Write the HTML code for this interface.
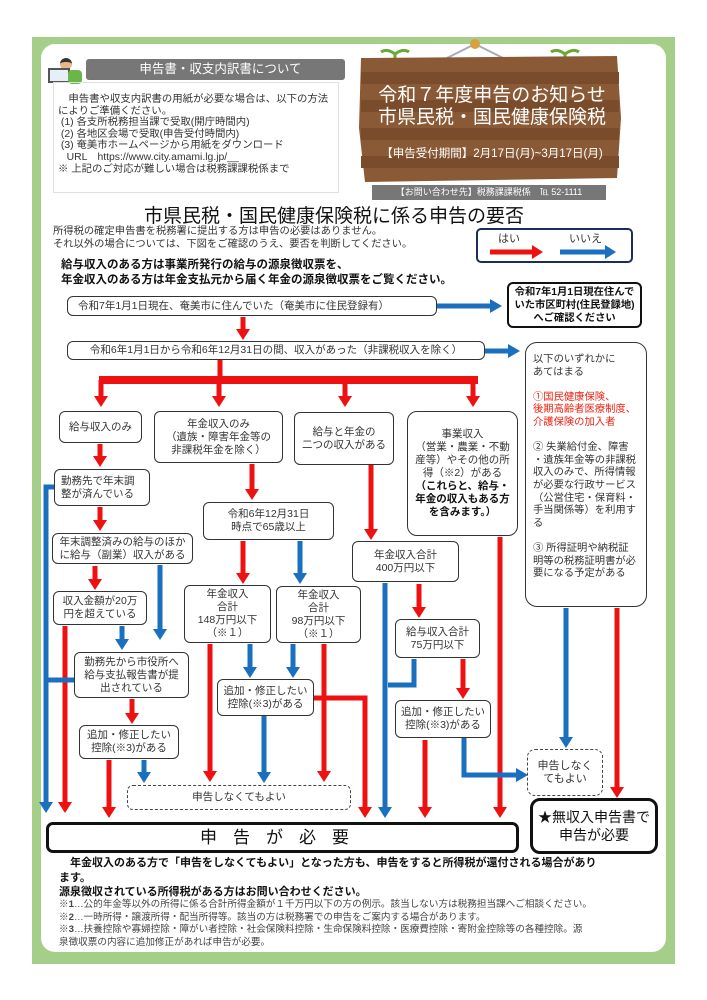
<!DOCTYPE html>
<html><head><meta charset="utf-8">
<style>
*{margin:0;padding:0;box-sizing:border-box}
body{width:707px;height:1000px;background:#fff;position:relative;overflow:hidden;font-family:"Liberation Sans","Noto Sans CJK JP",sans-serif;color:#222}
.a{position:absolute}
.bx{position:absolute;background:#fff;border:1.3px solid #333;border-radius:6px;font-size:10.5px;line-height:13px;text-align:center;display:flex;align-items:center;justify-content:center;color:#333}
.t{position:absolute;white-space:nowrap}
</style></head><body>
<!-- green frame -->
<div class="a" style="left:32px;top:37px;width:643px;height:927px;background:#a5cf88"></div>
<div class="a" style="left:41px;top:44px;width:625px;height:908px;background:#fff;border-radius:14px"></div>

<!-- header left -->
<div class="a" style="left:86px;top:59px;width:259px;height:21px;background:#777;border-radius:3px;color:#fff;font-size:12.5px;line-height:21px;text-align:center;padding-left:10px">申告書・収支内訳書について</div>
<div class="a" style="left:48px;top:58px;width:36px;height:28px">
<div class="a" style="left:12px;top:0;width:12px;height:12px;background:#e8b88a;border-radius:50%;border-top:4px solid #333"></div>
<div class="a" style="left:0;top:10px;width:22px;height:15px;background:#e6eef7;border:2px solid #555"></div>
<div class="a" style="left:20px;top:12px;width:14px;height:14px;background:#6cb548;border-radius:4px"></div>
</div>
<div class="a" style="left:53px;top:82px;width:286px;height:111px;border:1px solid #e0e0e0"></div>
<div class="a" style="left:58px;top:94px;font-size:10.4px;line-height:11.6px;color:#333;white-space:nowrap">
　申告書や収支内訳書の用紙が必要な場合は、以下の方法<br>によりご準備ください。<br>&nbsp;(1) 各支所税務担当課で受取(開庁時間内)<br>&nbsp;(2) 各地区会場で受取(申告受付時間内)<br>&nbsp;(3) 奄美市ホームページから用紙をダウンロード<br>&nbsp;&nbsp;&nbsp;URL　https://www.city.amami.lg.jp/__<br>※ 上記のご対応が難しい場合は税務課課税係まで</div>

<!-- sign -->
<svg class="a" style="left:355px;top:38px" width="270" height="150">
<path d="M80 26 L120 6 L160 26" stroke="#aab" stroke-width="2" fill="none"/>
<circle cx="120" cy="6" r="5" fill="#d9a040"/>
<path d="M40 26 v-10 M40 16 q-8 -6 -14 -2 M40 16 q8 -6 14 -2" stroke="#6a3" stroke-width="3" fill="none"/>
<path d="M210 26 v-10 M210 16 q-8 -6 -14 -2 M210 16 q8 -6 14 -2" stroke="#6a3" stroke-width="3" fill="none"/>
<path d="M6 20 L262 18 L266 80 L262 140 L10 144 L4 90 Z" fill="#8a5a36"/>
<rect x="6" y="34" width="258" height="12" fill="#7a4c2c"/>
<rect x="6" y="62" width="258" height="12" fill="#7a4c2c"/>
<rect x="6" y="90" width="258" height="12" fill="#7a4c2c"/>
<rect x="6" y="118" width="258" height="12" fill="#7a4c2c"/>
</svg>
<div class="t" style="left:362px;top:85px;width:260px;text-align:center;color:#fff;font-size:19px;line-height:22px">令和７年度申告のお知らせ<br>市県民税・国民健康保険税</div>
<div class="t" style="left:362px;top:145px;width:260px;text-align:center;color:#fff;font-size:11.5px">【申告受付期間】2月17日(月)~3月17日(月)</div>
<div class="a" style="left:372px;top:185px;width:234px;height:15px;background:#777;color:#fff;font-size:9px;line-height:15px;text-align:center">【お問い合わせ先】税務課課税係　℡ 52-1111</div>

<!-- title -->
<div class="t" style="left:0;width:668px;top:201px;text-align:center;font-size:19px;color:#111">市県民税・国民健康保険税に係る申告の要否</div>
<div class="t" style="left:53px;top:226px;font-size:10.3px;line-height:12.5px;color:#333">所得税の確定申告書を税務署に提出する方は申告の必要はありません。<br>それ以外の場合については、下図をご確認のうえ、要否を判断してください。</div>
<div class="a" style="left:476px;top:228px;width:157px;height:35px;border:2.5px solid #1d2d5a;border-radius:5px"></div>
<div class="t" style="left:498px;top:230px;font-size:11px;color:#333">はい</div>
<div class="t" style="left:569px;top:230px;font-size:11px;color:#333">いいえ</div>
<div class="t" style="left:61px;top:258px;font-size:11.5px;line-height:15px;font-weight:bold;color:#111">給与収入のある方は事業所発行の給与の源泉徴収票を、<br>年金収入のある方は年金支払元から届く年金の源泉徴収票をご覧ください。</div>

<!-- arrows -->
<svg class="a" style="left:0;top:0" width="707" height="1000">
<g stroke="#ee1111" stroke-width="5" fill="none">
<path d="M490 252h42"/>
<path d="M243 317v13"/><path d="M220 357v24"/>
<path d="M101 380v17M219 380v17M345 380v17M473 380v17"/>
<path d="M100 444v13M100 507v14M95 566v14M65 626v177M132 699v15M109 760v48"/>
<path d="M252 464v26M243 541v33M210 644v128M324 644v128M314 698h51v110"/>
<path d="M371 465v65M419 584v24M463 659v30M425 740v68M500 537v271M617 608v180"/>
</g>
<rect x="99" y="376" width="379" height="8" fill="#ee1111"/>
<g fill="#ee1111">
<polygon points="532,245 532,259 543,252"/>
<polygon points="236,329 250,329 243,340"/>
<polygon points="94,396 108,396 101,407"/><polygon points="212,396 226,396 219,407"/><polygon points="338,396 352,396 345,407"/><polygon points="466,396 480,396 473,407"/>
<polygon points="93,456 107,456 100,467"/><polygon points="93,520 107,520 100,531"/><polygon points="88,579 102,579 95,590"/>
<polygon points="58,802 72,802 65,813"/><polygon points="125,713 139,713 132,724"/><polygon points="102,807 116,807 109,818"/>
<polygon points="245,489 259,489 252,500"/><polygon points="236,573 250,573 243,584"/>
<polygon points="203,771 217,771 210,782"/><polygon points="317,771 331,771 324,782"/><polygon points="358,807 372,807 365,818"/>
<polygon points="364,529 378,529 371,540"/><polygon points="412,607 426,607 419,618"/><polygon points="456,688 470,688 463,699"/>
<polygon points="418,807 432,807 425,818"/><polygon points="493,807 507,807 500,818"/><polygon points="610,787 624,787 617,798"/>
</g>
<g stroke="#1a6fbf" stroke-width="5" fill="none">
<path d="M560 252h45"/>
<path d="M437 306h54M485 351h24M54 487h-8v316M46 680h28M160 565v65M122 626v14M144 760v13"/>
<path d="M300 541v33M250 644v24M293 644v24M264 716v57M385 583v225M414 659v26h-26M464 738v37h53M566 608v130"/>
</g>
<g fill="#1a6fbf">
<polygon points="605,245 605,259 616,252"/>
<polygon points="490,299 490,313 502,306"/><polygon points="508,344 508,358 520,351"/>
<polygon points="39,802 53,802 46,813"/><polygon points="153,629 167,629 160,640"/><polygon points="115,639 129,639 122,650"/><polygon points="137,772 151,772 144,783"/>
<polygon points="293,573 307,573 300,584"/><polygon points="243,667 257,667 250,678"/><polygon points="286,667 300,667 293,678"/><polygon points="257,772 271,772 264,783"/>
<polygon points="378,807 392,807 385,818"/><polygon points="516,768 516,782 528,775"/><polygon points="559,737 573,737 566,748"/>
</g>
</svg>

<!-- boxes -->
<div class="bx" style="left:67px;top:296px;width:370px;height:20px;justify-content:flex-start;padding-left:10px">令和7年1月1日現在、奄美市に住んでいた（奄美市に住民登録有）</div>
<div class="bx" style="left:507px;top:282px;width:135px;height:46px;border:2.5px solid #111;font-weight:bold;font-size:10.3px;line-height:13px;color:#111">令和7年1月1日現在住んで<br>いた市区町村(住民登録地)<br>へご確認ください</div>
<div class="bx" style="left:67px;top:341px;width:418px;height:19px">令和6年1月1日から令和6年12月31日の間、収入があった（非課税収入を除く）</div>
<div class="bx" style="left:525px;top:342px;width:122px;height:265px;border-radius:12px;display:block;text-align:left;padding:11px 0 0 7px;font-size:10.3px;line-height:12.6px">以下のいずれかに<br>あてはまる<br><br><span style="color:#e21">①国民健康保険、<br>後期高齢者医療制度、<br>介護保険の加入者</span><br><br>② 失業給付金、障害<br>・遺族年金等の非課税<br>収入のみで、所得情報<br>が必要な行政サービス<br>（公営住宅・保育料・<br>手当関係等）を利用す<br>る<br><br>③ 所得証明や納税証<br>明等の税務証明書が必<br>要になる予定がある</div>

<div class="bx" style="left:59px;top:411px;width:83px;height:32px">給与収入のみ</div>
<div class="bx" style="left:154px;top:411px;width:129px;height:52px">年金収入のみ<br>（遺族・障害年金等の<br>非課税年金を除く）</div>
<div class="bx" style="left:294px;top:412px;width:100px;height:53px">給与と年金の<br>二つの収入がある</div>
<div class="bx" style="left:407px;top:411px;width:111px;height:125px;border-radius:10px"><div>事業収入<br>（営業・農業・不動<br>産等）やその他の所<br>得（※2）がある<br><b style="color:#111">（これらと、給与・<br>年金の収入もある方<br>を含みます。）</b></div></div>

<div class="bx" style="left:54px;top:469px;width:96px;height:37px;justify-content:flex-start;text-align:left;padding-left:6px">勤務先で年末調<br>整が済んでいる</div>
<div class="bx" style="left:52px;top:533px;width:141px;height:31px">年末調整済みの給与のほか<br>に給与（副業）収入がある</div>
<div class="bx" style="left:53px;top:591px;width:94px;height:34px">収入金額が20万<br>円を超えている</div>
<div class="bx" style="left:74px;top:652px;width:115px;height:46px">勤務先から市役所へ<br>給与支払報告書が提<br>出されている</div>
<div class="bx" style="left:79px;top:725px;width:100px;height:34px">追加・修正したい<br>控除(※3)がある</div>

<div class="bx" style="left:203px;top:502px;width:131px;height:38px">令和6年12月31日<br>時点で65歳以上</div>
<div class="bx" style="left:184px;top:585px;width:87px;height:58px">年金収入<br>合計<br>148万円以下<br>（※１）</div>
<div class="bx" style="left:276px;top:586px;width:85px;height:57px">年金収入<br>合計<br>98万円以下<br>（※１）</div>
<div class="bx" style="left:217px;top:679px;width:97px;height:37px">追加・修正したい<br>控除(※3)がある</div>

<div class="bx" style="left:352px;top:541px;width:107px;height:41px">年金収入合計<br>400万円以下</div>
<div class="bx" style="left:395px;top:619px;width:85px;height:39px">給与収入合計<br>75万円以下</div>
<div class="bx" style="left:395px;top:700px;width:96px;height:38px">追加・修正したい<br>控除(※3)がある</div>

<div class="bx" style="left:127px;top:785px;width:224px;height:25px;border:1.5px dashed #444">申告しなくてもよい</div>
<div class="bx" style="left:527px;top:749px;width:76px;height:47px;border:1.5px dashed #444;border-radius:8px;font-size:11px">申告しなく<br>てもよい</div>

<div class="bx" style="left:46px;top:822px;width:473px;height:31px;border:3px solid #111;border-radius:7px;font-size:17px;letter-spacing:16px;color:#111">申告が必要</div>
<div class="bx" style="left:530px;top:798px;width:128px;height:56px;border:3px solid #111;border-radius:10px;font-size:14px;line-height:18px;color:#111">★無収入申告書で<br>申告が必要</div>

<!-- footer -->
<div class="t" style="left:59px;top:856px;font-size:11px;line-height:14.5px;font-weight:bold;color:#111">　年金収入のある方で「申告をしなくてもよい」となった方も、申告をすると所得税が還付される場合があり<br>ます。<br>源泉徴収されている所得税がある方はお問い合わせください。</div>
<div class="t" style="left:59px;top:899px;font-size:9.6px;line-height:12.6px;color:#444">※<b>1</b>…公的年金等以外の所得に係る合計所得金額が１千万円以下の方の例示。該当しない方は税務担当課へご相談ください。<br>※<b>2</b>…一時所得・譲渡所得・配当所得等。該当の方は税務署での申告をご案内する場合があります。<br>※<b>3</b>…扶養控除や寡婦控除・障がい者控除・社会保険料控除・生命保険料控除・医療費控除・寄附金控除等の各種控除。源<br>泉徴収票の内容に追加修正があれば申告が必要。</div>
</body></html>
